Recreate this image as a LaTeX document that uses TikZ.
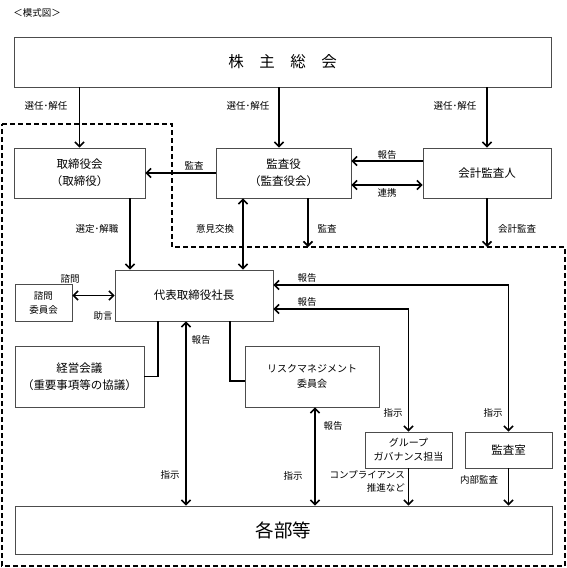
\documentclass[tikz,border=0pt]{standalone}
\usepackage{fontspec}
\setmainfont{Noto Sans CJK JP}
\usetikzlibrary{arrows.meta}
\tikzset{
 box/.style={draw=gray!60!black,line width=0.8pt,align=center,inner sep=0pt,font=\fontsize{11.5}{17}\selectfont},
 lbl/.style={inner sep=0pt,align=center,font=\fontsize{9.5}{13.5}\selectfont},
 conn/.style={line width=1.6pt},
}
\begin{document}
\begin{tikzpicture}[x=1pt,y=-1pt,>={Straight Barb[length=4.5pt,width=9pt]}]
\useasboundingbox (0,0) rectangle (566,568);
% 点線の枠
\draw[line width=1.2pt,dash pattern=on 5pt off 3pt] (2,124)--(172,124)--(172,247)--(565,247)--(565,566)--(2,566)--cycle;
\coordinate (waku) at (172,247);
% 線の位置
\coordinate (xSennin) at (279,0);
\coordinate (xSentei) at (130,0);
\coordinate (xIken) at (243,0);
\coordinate (xKansa) at (308,0);
\coordinate (xKeiei) at (158,0);
\coordinate (xRisk) at (230,0);
\coordinate (xHoukoku) at (186,0);
\coordinate (xRiskH) at (315,0);
\coordinate (yHoukoku) at (0,161);
\coordinate (yRenkei) at (0,185);
\coordinate (yRisk) at (0,381);
\coordinate (yHou1) at (0,285);
\coordinate (yHou2) at (0,309);
% 箱
\node[lbl] (title) at (37,13) {＜模式図＞};
\node[box,minimum width=537pt,minimum height=50pt,font=\fontsize{15.5}{18}\selectfont] (soukai) at (282.5,62) {株　主　総　会};
\node[box,minimum width=131pt,minimum height=50pt] (tori) at (79.5,173) {取締役会\\（取締役）};
\node[box,minimum width=135pt,minimum height=50pt] (kansa) at (283.5,173) {監査役\\（監査役会）};
\node[box,minimum width=128pt,minimum height=50pt] (kaikei) at (487,173) {会計監査人};
\node[box,minimum width=158pt,minimum height=51pt] (daihyo) at (194,295.5) {代表取締役社長};
\node[box,minimum width=57pt,minimum height=37pt,font=\fontsize{9.5}{14}\selectfont] (shimon) at (43.5,302.5) {諮問\\委員会};
\node[box,minimum width=129pt,minimum height=61pt,font=\fontsize{11.5}{16.5}\selectfont] (keiei) at (79.5,376.5) {経営会議\\（重要事項等の協議）};
\node[box,minimum width=134pt,minimum height=61pt,font=\fontsize{10}{15}\selectfont] (risk) at (312,376.5) {リスクマネジメント\\委員会};
\node[box,minimum width=87pt,minimum height=36pt,font=\fontsize{10}{14}\selectfont] (group) at (408.5,450) {グループ\\ガバナンス担当};
\node[box,minimum width=87pt,minimum height=36pt] (kansashitsu) at (508.5,450) {監査室};
\node[box,minimum width=537pt,minimum height=48pt,font=\fontsize{18.5}{20}\selectfont] (kakubu) at (283.5,530) {各部等};
% 矢印
\draw[conn,->] (soukai.south -| tori) -- (tori.north);
\draw[conn,->] (soukai.south -| xSennin) -- (kansa.north -| xSennin);
\draw[conn,->] (soukai.south -| kaikei) -- (kaikei.north);
\draw[conn,->] (kansa.west) -- (tori.east);
\draw[conn,->] (kaikei.west |- yHoukoku) -- (kansa.east |- yHoukoku);
\draw[conn,<->] (kansa.east |- yRenkei) -- (kaikei.west |- yRenkei);
\draw[conn,->] (kansa.south -| xKansa) -- (waku -| xKansa);
\draw[conn,->] (kaikei.south) -- (waku -| kaikei);
\draw[conn,->] (tori.south -| xSentei) -- (daihyo.north -| xSentei);
\draw[conn,<->] (kansa.south -| xIken) -- (daihyo.north -| xIken);
\draw[conn,<->] (shimon.east |- daihyo) -- (daihyo.west);
\draw[conn] (daihyo.south -| xKeiei) |- (keiei.east);
\draw[conn] (daihyo.south -| xRisk) |- (risk.west |- yRisk);
\draw[conn,<->] (daihyo.south -| xHoukoku) -- (kakubu.north -| xHoukoku);
\draw[conn,<->] (risk.south -| xRiskH) -- (kakubu.north -| xRiskH);
\draw[conn,<->] (daihyo.east |- yHou1) -| (kansashitsu.north);
\draw[conn,<->] (daihyo.east |- yHou2) -| (group.north);
\draw[conn,->] (group.south) -- (kakubu.north -| group);
\draw[conn,->] (kansashitsu.south) -- (kakubu.north -| kansashitsu);
% ラベル
\node[lbl] (sn1) at (46,106) {選任･解任};
\node[lbl] (sn2) at (248,106) {選任･解任};
\node[lbl] (sn3) at (455,106) {選任･解任};
\node[lbl] (ka1) at (194,166) {監査};
\node[lbl] (hk1) at (387,155) {報告};
\node[lbl] (rk) at (387,193) {連携};
\node[lbl] (st) at (97,229) {選定･解職};
\node[lbl] (ik) at (215,229) {意見交換};
\node[lbl] (ka2) at (327,229) {監査};
\node[lbl] (kk) at (517,229) {会計監査};
\node[lbl] (sm) at (70,279) {諮問};
\node[lbl] (jg) at (103,316) {助言};
\node[lbl] (hk2) at (307,278) {報告};
\node[lbl] (hk3) at (307,302) {報告};
\node[lbl] (hk4) at (201,340) {報告};
\node[lbl] (hk5) at (333,426) {報告};
\node[lbl] (sj1) at (393,413) {指示};
\node[lbl] (sj2) at (493,413) {指示};
\node[lbl] (sj3) at (170,475) {指示};
\node[lbl] (sj4) at (293,476) {指示};
\node[lbl,anchor=east,align=right,font=\fontsize{9.5}{13}\selectfont] (cp) at (405,481) {コンプライアンス\\推進など};
\node[lbl] (nb) at (479,480) {内部監査};
\end{tikzpicture}
\end{document}
